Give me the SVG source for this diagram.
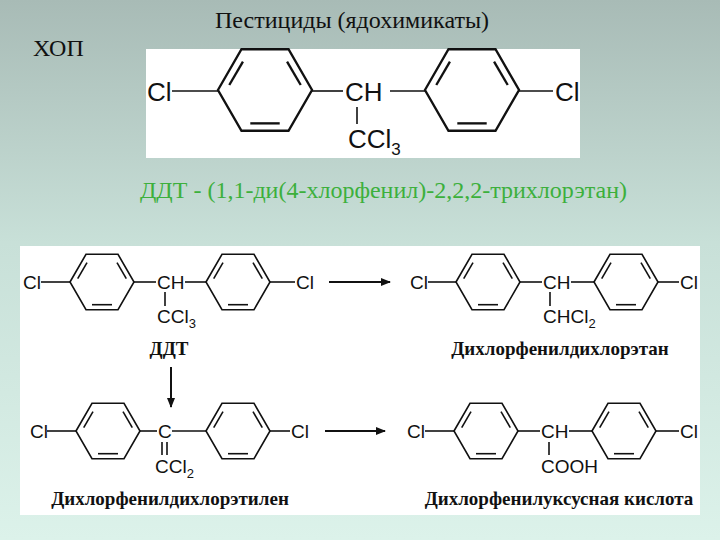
<svg xmlns="http://www.w3.org/2000/svg" xmlns:xlink="http://www.w3.org/1999/xlink" width="720" height="540" viewBox="0 0 720 540">
<defs>
<linearGradient id="bg" x1="0" y1="0" x2="0" y2="1">
<stop offset="0" stop-color="#a8bbb6"/><stop offset="0.45" stop-color="#c8e0d8"/><stop offset="1" stop-color="#dcf2ea"/>
</linearGradient>
<g id="ring" fill="none" stroke="#111" stroke-width="1.6">
<polygon points="-32,0 -16,-27.7 16,-27.7 32,0 16,27.7 -16,27.7"/>
<line x1="-24.3" y1="-3.4" x2="-15" y2="-19.3"/>
<line x1="15" y1="-19.3" x2="24.3" y2="-3.4"/>
<line x1="10" y1="22.7" x2="-10" y2="22.7"/>
</g>
<marker id="ah" markerWidth="10" markerHeight="8" refX="9" refY="4" orient="auto" markerUnits="userSpaceOnUse">
<path d="M0,0 L10,4 L0,8 Z" fill="#111"/>
</marker>
</defs>
<style>
.a{font-family:"Liberation Sans",Arial,sans-serif;fill:#111}
.s{font-family:"Liberation Serif","Times New Roman",serif;fill:#111}
.b{stroke:#111;stroke-width:1.6;fill:none}
</style>
<rect width="720" height="540" fill="url(#bg)"/>
<text class="s" x="352" y="28" font-size="24" text-anchor="middle">Пестициды (ядохимикаты)</text>
<text class="s" x="33" y="56" font-size="24">ХОП</text>
<g id="ddt-top">
<rect x="146" y="49" width="434" height="109" fill="#fff"/>
<text class="a" x="147" y="101" font-size="26">Cl</text>
<line class="b" x1="172" y1="91" x2="218" y2="91"/>
<use xlink:href="#ring" transform="translate(265,90) scale(1.47)"/>
<line class="b" x1="312" y1="91" x2="343" y2="91"/>
<text class="a" x="345" y="101" font-size="26">CH</text>
<line class="b" x1="390" y1="91" x2="425" y2="91"/>
<use xlink:href="#ring" transform="translate(472,90) scale(1.47)"/>
<line class="b" x1="519" y1="91" x2="553" y2="91"/>
<text class="a" x="555" y="101" font-size="26">Cl</text>
<line class="b" x1="357" y1="107" x2="357" y2="124"/>
<text class="a" x="348" y="148" font-size="26">CCl<tspan font-size="17" dy="7">3</tspan></text>
</g>
<text class="s" x="140" y="198" font-size="24" style="fill:#3cb03c">ДДТ - (1,1-ди(4-хлорфенил)-2,2,2-трихлорэтан)</text>
<rect x="20" y="246" width="680" height="269" fill="#fff"/>
<g id="ddt">
<text class="a" x="23" y="289" font-size="19">Cl</text>
<line class="b" x1="41" y1="282" x2="70" y2="282"/>
<use xlink:href="#ring" transform="translate(102,282)"/>
<line class="b" x1="134" y1="282" x2="156" y2="282"/>
<text class="a" x="157" y="289" font-size="19">CH</text>
<line class="b" x1="185" y1="282" x2="206" y2="282"/>
<use xlink:href="#ring" transform="translate(238,282)"/>
<line class="b" x1="270" y1="282" x2="295" y2="282"/>
<text class="a" x="296" y="289" font-size="19">Cl</text>
<line class="b" x1="165" y1="292" x2="165" y2="306"/>
<text class="a" x="157" y="323" font-size="19">CCl<tspan font-size="13" dy="5">3</tspan></text>
<text class="s" x="169" y="355" font-size="19" font-weight="bold" text-anchor="middle">ДДТ</text>
</g>
<g id="ddd">
<text class="a" x="410" y="289" font-size="19">Cl</text>
<line class="b" x1="428" y1="282" x2="456" y2="282"/>
<use xlink:href="#ring" transform="translate(488,282)"/>
<line class="b" x1="520" y1="282" x2="542" y2="282"/>
<text class="a" x="543" y="289" font-size="19">CH</text>
<line class="b" x1="571" y1="282" x2="594" y2="282"/>
<use xlink:href="#ring" transform="translate(626,282)"/>
<line class="b" x1="658" y1="282" x2="679" y2="282"/>
<text class="a" x="680" y="289" font-size="19">Cl</text>
<line class="b" x1="550" y1="292" x2="550" y2="306"/>
<text class="a" x="543" y="323" font-size="19">CHCl<tspan font-size="13" dy="5">2</tspan></text>
<text class="s" x="560" y="355" font-size="19" font-weight="bold" text-anchor="middle">Дихлорфенилдихлорэтан</text>
</g>
<g id="dde">
<text class="a" x="30" y="438" font-size="19">Cl</text>
<line class="b" x1="47" y1="431" x2="76" y2="431"/>
<use xlink:href="#ring" transform="translate(108,431)"/>
<line class="b" x1="140" y1="431" x2="157" y2="431"/>
<text class="a" x="158" y="438" font-size="19">C</text>
<line class="b" x1="172" y1="431" x2="206" y2="431"/>
<use xlink:href="#ring" transform="translate(238,431)"/>
<line class="b" x1="270" y1="431" x2="290" y2="431"/>
<text class="a" x="291" y="438" font-size="19">Cl</text>
<line class="b" x1="162" y1="442" x2="162" y2="455"/>
<line class="b" x1="167" y1="442" x2="167" y2="455"/>
<text class="a" x="155" y="473" font-size="19">CCl<tspan font-size="13" dy="5">2</tspan></text>
<text class="s" x="170" y="505" font-size="19" font-weight="bold" text-anchor="middle">Дихлорфенилдихлорэтилен</text>
</g>
<g id="dda">
<text class="a" x="407" y="438" font-size="19">Cl</text>
<line class="b" x1="425" y1="431" x2="454" y2="431"/>
<use xlink:href="#ring" transform="translate(486,431)"/>
<line class="b" x1="518" y1="431" x2="540" y2="431"/>
<text class="a" x="541" y="438" font-size="19">CH</text>
<line class="b" x1="569" y1="431" x2="592" y2="431"/>
<use xlink:href="#ring" transform="translate(624,431)"/>
<line class="b" x1="656" y1="431" x2="679" y2="431"/>
<text class="a" x="680" y="438" font-size="19">Cl</text>
<line class="b" x1="549" y1="442" x2="549" y2="455"/>
<text class="a" x="541" y="473" font-size="19">COOH</text>
<text class="s" x="559" y="505" font-size="19" font-weight="bold" text-anchor="middle">Дихлорфенилуксусная кислота</text>
</g>
<g id="connectors" stroke="#111" stroke-width="2" fill="none">
<line x1="329" y1="282" x2="390" y2="282" marker-end="url(#ah)"/>
<line x1="171" y1="367" x2="171" y2="407" marker-end="url(#ah)"/>
<line x1="325" y1="431" x2="385" y2="431" marker-end="url(#ah)"/>
</g>
</svg>
